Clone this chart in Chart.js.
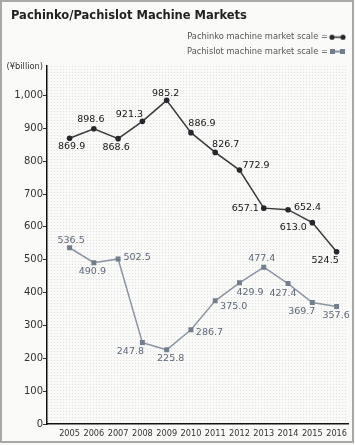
<!DOCTYPE html>
<html><head><meta charset="utf-8">
<script src="https://cdn.jsdelivr.net/npm/chart.js@4/dist/chart.umd.min.js"></script>
<style>html,body{margin:0;padding:0;background:#fafaf8}canvas{display:block}</style>
</head><body>
<canvas id="c" width="355" height="445"></canvas>
<script>
const years = ['2005','2006','2007','2008','2009','2010','2011','2012','2013','2014','2015','2016'];
const pachinko = [869.9, 898.6, 868.6, 921.3, 985.2, 886.9, 826.7, 772.9, 657.1, 652.4, 613.0, 524.5];
const pachislot = [536.5, 490.9, 502.5, 247.8, 225.8, 286.7, 375.0, 429.9, 477.4, 427.4, 369.7, 357.6];
const yTicks = [0, 100, 200, 300, 400, 500, 600, 700, 800, 900, 1000];
const seriesNames = ['Pachinko machine market scale =', 'Pachislot machine market scale ='];
const titleText = 'Pachinko/Pachislot Machine Markets';
const unitText = '(¥billion)';

// label placement (style only): offsets from each point
const offsPachinko = [[2,8],[-3,-9],[-2,9],[-13,-7],[-1,-7],[11,-9],[10.5,-8],[16.5,-5],[-18.5,0],[19.5,-2],[-19,5],[-11.5,8.5]];
const offsPachislot = [[1.5,-7.5],[-1.5,8.5],[19,-1.5],[-12,9],[4,9],[18.5,3],[18.5,5.5],[10.5,9.5],[-2,-8.5],[-5,10],[-10.5,9],[-0.5,9.5]];

const FONT = 'DejaVu Sans';

function symbol(kind){
  const c = document.createElement('canvas'); c.width = 18; c.height = 7;
  const g = c.getContext('2d');
  if (kind === 'dot') {
    g.strokeStyle = '#333'; g.lineWidth = 1.5;
    g.beginPath(); g.moveTo(4,3.5); g.lineTo(15,3.5); g.stroke();
    g.fillStyle = '#25282c';
    [4,15].forEach(x => { g.beginPath(); g.arc(x,3.5,2.6,0,Math.PI*2); g.fill(); });
  } else {
    g.fillStyle = '#8c96a3'; g.fillRect(6,2.5,7,2);
    g.fillStyle = '#737e8c'; g.fillRect(2,1,5,5); g.fillRect(12,1,5,5);
  }
  return c;
}
const symbols = [symbol('dot'), symbol('sq')];

const bgPlugin = {
  id: 'bg',
  beforeDraw(chart) {
    const {ctx, chartArea: a} = chart;
    ctx.save();
    ctx.fillStyle = '#fafaf8';
    ctx.fillRect(0, 0, chart.width, chart.height);
    const p = document.createElement('canvas'); p.width = 3; p.height = 3;
    const pg = p.getContext('2d'); pg.fillStyle = '#e0e0e0'; pg.fillRect(0,0,1,1);
    ctx.fillStyle = ctx.createPattern(p, 'repeat');
    ctx.fillRect(a.left, a.top, a.right - a.left, a.bottom - a.top);
    ctx.strokeStyle = '#a8a8a8'; ctx.lineWidth = 2;
    ctx.strokeRect(1, 1, 352, 441);
    ctx.restore();
  },
  afterDraw(chart) {
    const ctx = chart.ctx;
    ctx.save();
    ctx.font = '8.3px "' + FONT + '"';
    ctx.fillStyle = '#333';
    ctx.textAlign = 'left'; ctx.textBaseline = 'middle';
    ctx.fillText(unitText, 6.5, 66.5);
    ctx.restore();
  }
};

const labelPlugin = {
  id: 'vlabels',
  afterDatasetsDraw(chart) {
    const ctx = chart.ctx;
    const sets = [[pachinko, offsPachinko, '#151515'], [pachislot, offsPachislot, '#5d6878']];
    ctx.save();
    ctx.font = '9.5px "' + FONT + '"';
    ctx.textAlign = 'center'; ctx.textBaseline = 'middle';
    sets.forEach(([vals, offs, col], di) => {
      const meta = chart.getDatasetMeta(di);
      ctx.fillStyle = col;
      meta.data.forEach((pt, i) => {
        ctx.fillText(vals[i].toFixed(1), pt.x + offs[i][0], pt.y + offs[i][1]);
      });
    });
    ctx.restore();
  }
};

new Chart(document.getElementById('c'), {
  type: 'line',
  data: {
    datasets: [
      { label: seriesNames[0], data: pachinko.map((v,i)=>({x:i,y:v})),
        borderColor: '#3a3a3a', borderWidth: 1.5, pointRadius: 2.8, pointBorderWidth: 0,
        pointBackgroundColor: '#25282c', pointStyle: 'circle', tension: 0 },
      { label: seriesNames[1], data: pachislot.map((v,i)=>({x:i,y:v})),
        borderColor: '#8c96a3', borderWidth: 1.5, pointRadius: 3.5, pointBorderWidth: 0,
        pointBackgroundColor: '#737e8c', pointStyle: 'rect', tension: 0 }
    ]
  },
  options: {
    responsive: false,
    animation: false,
    devicePixelRatio: 1,
    layout: { padding: { left: 11, right: 7, top: 0, bottom: 0 } },
    plugins: {
      tooltip: { enabled: false },
      title: {
        display: true, text: titleText, align: 'start', color: '#222',
        font: { family: FONT, size: 11.5, weight: 'bold' },
        padding: { top: 9, bottom: 4.2 }
      },
      legend: {
        display: true, position: 'top', align: 'start', rtl: true,
        labels: {
          usePointStyle: true, pointStyleWidth: 10, padding: 6, color: '#555',
          font: { family: FONT, size: 8.3 },
          generateLabels: chart => chart.data.datasets.map((ds, i) => ({
            text: '      ' + ds.label, pointStyle: symbols[i], fontColor: '#555',
            fillStyle: 'transparent', strokeStyle: 'transparent', lineWidth: 0,
            hidden: false, datasetIndex: i
          }))
        }
      }
    },
    scales: {
      x: {
        type: 'linear', min: -0.93, max: 11.47,
        afterBuildTicks: s => { s.ticks = years.map((_, i) => ({ value: i })); },
        afterFit: s => { s.height = 21; },
        grid: { display: false },
        border: { display: true, color: '#111', width: 1.5 },
        ticks: { autoSkip: false, maxRotation: 0, padding: -3, color: '#333',
          font: { family: FONT, size: 8.2 },
          callback: v => years[v] ?? '' }
      },
      y: {
        min: 0, max: 1091,
        afterBuildTicks: s => { s.ticks = yTicks.map(v => ({ value: v })); },
        afterFit: s => { s.width = 36; },
        grid: { drawOnChartArea: false, drawTicks: true, tickLength: 4, color: '#333', lineWidth: 1 },
        border: { display: true, color: '#111', width: 1.5 },
        ticks: { padding: 0, color: '#333', font: { family: FONT, size: 10 },
          callback: v => v.toLocaleString('en-US') }
      }
    }
  },
  plugins: [bgPlugin, labelPlugin]
});
</script>
</body></html>
